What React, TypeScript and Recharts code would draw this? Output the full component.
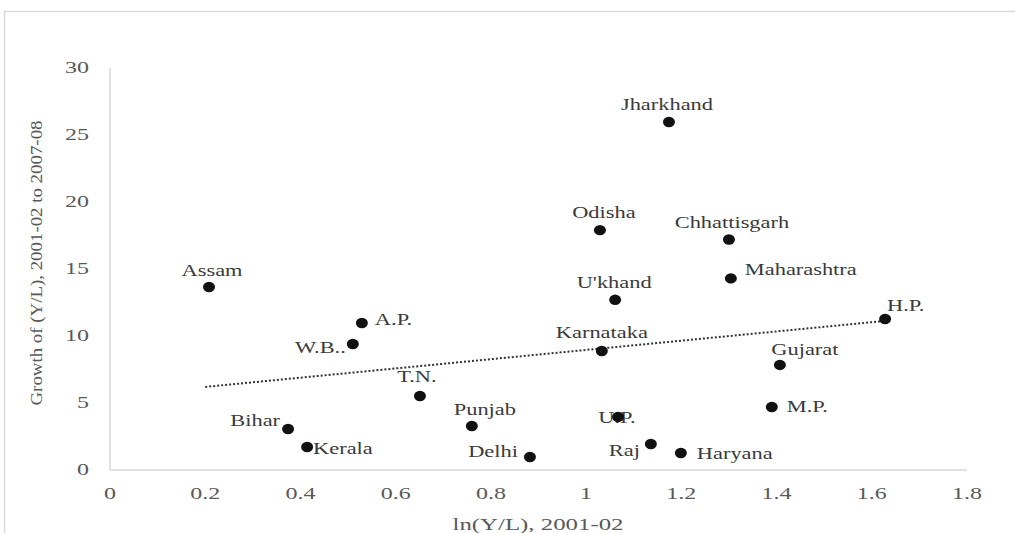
import { ScatterChart, Scatter, XAxis, YAxis } from "recharts";

// ln(Y/L) 2001-02 vs growth of (Y/L) 2001-02 to 2007-08, by state
const states = [
  "Jharkhand", "Odisha", "Chhattisgarh", "Maharashtra", "Assam", "U'khand", "H.P.",
  "A.P.", "W.B..", "Karnataka", "Gujarat", "T.N.", "M.P.", "U.P.", "Punjab", "Bihar",
  "Raj", "Kerala", "Haryana", "Delhi",
];
const lnYL = [
  1.174, 1.029, 1.300, 1.304, 0.208, 1.061, 1.628,
  0.529, 0.510, 1.033, 1.407, 0.651, 1.390, 1.067, 0.760, 0.374,
  1.136, 0.414, 1.199, 0.882,
];
const growth = [
  25.97, 17.9, 17.2, 14.3, 13.66, 12.7, 11.27,
  10.97, 9.4, 8.88, 7.84, 5.52, 4.70, 3.96, 3.28, 3.06,
  1.94, 1.72, 1.27, 0.97,
];

// dotted trend line, end points
const trendX = [0.2, 1.62];
const trendY = [6.2, 11.1];

const xTicks = [0, 0.2, 0.4, 0.6, 0.8, 1, 1.2, 1.4, 1.6, 1.8];
const yTicks = [0, 5, 10, 15, 20, 25, 30];

const points = states.map((name, i) => ({ name, x: lnYL[i], y: growth[i] }));
const trend = trendX.map((x, i) => ({ x, y: trendY[i] }));

// label placement relative to each dot
const LABEL_POS: Record<string, { dx: number; dy: number; anchor: string }> = {
  "Jharkhand":    { dx: -2,  dy: -17, anchor: "middle" },
  "Odisha":       { dx: 4,   dy: -17, anchor: "middle" },
  "Chhattisgarh": { dx: 3,   dy: -17, anchor: "middle" },
  "Maharashtra":  { dx: 14,  dy: -9,  anchor: "start" },
  "Assam":        { dx: 3,   dy: -16, anchor: "middle" },
  "U'khand":      { dx: -1,  dy: -17, anchor: "middle" },
  "H.P.":         { dx: 2,   dy: -13, anchor: "start" },
  "A.P.":         { dx: 13,  dy: -3,  anchor: "start" },
  "W.B..":        { dx: -7,  dy: 4,   anchor: "end" },
  "Karnataka":    { dx: 0,   dy: -18, anchor: "middle" },
  "Gujarat":      { dx: 25,  dy: -15, anchor: "middle" },
  "T.N.":         { dx: -3,  dy: -19, anchor: "middle" },
  "M.P.":         { dx: 15,  dy: 0,   anchor: "start" },
  "U.P.":         { dx: -1,  dy: 1,   anchor: "middle" },
  "Punjab":       { dx: 13,  dy: -16, anchor: "middle" },
  "Bihar":        { dx: -8,  dy: -8,  anchor: "end" },
  "Raj":          { dx: -11, dy: 7,   anchor: "end" },
  "Kerala":       { dx: 6,   dy: 2,   anchor: "start" },
  "Haryana":      { dx: 16,  dy: 1,   anchor: "start" },
  "Delhi":        { dx: -12, dy: -5,  anchor: "end" },
};

const FONT = "'Liberation Serif', 'Times New Roman', serif";
const LABEL_SX = 1.4; // the original text is stretched sideways
const TICK_SX = 1.5;
const AXIS = "#d9d9d9";
const TICK = "#595959";

function StateDot(props: any) {
  const { cx, cy, payload } = props;
  const pos = LABEL_POS[payload.name] ?? { dx: 10, dy: 0, anchor: "start" };
  return (
    <g>
      <text
        transform={`translate(${cx + pos.dx},${cy + pos.dy}) scale(${LABEL_SX},1)`}
        textAnchor={pos.anchor}
        dominantBaseline="central"
        fontFamily={FONT}
        fontSize={16}
        fill="#3a3a3a"
      >
        {payload.name}
      </text>
      <ellipse cx={cx} cy={cy} rx={6} ry={5.2} fill="#111" />
    </g>
  );
}

function Tick(props: any) {
  const { x, y, payload, textAnchor } = props;
  return (
    <text
      transform={`translate(${x},${y}) scale(${TICK_SX},1)`}
      textAnchor={textAnchor}
      dominantBaseline="central"
      fontFamily={FONT}
      fontSize={16}
      fill={TICK}
    >
      {payload.value}
    </text>
  );
}

export default function App() {
  return (
    <div style={{ position: "fixed", left: 0, top: 0, width: 1015, height: 533, overflow: "hidden", background: "#fff" }}>
      <ScatterChart width={1015} height={533} margin={{ top: 68, right: 48, bottom: 33, left: 50 }}>
        <XAxis
          type="number" dataKey="x" domain={[0, 1.8]} ticks={xTicks} height={30}
          axisLine={{ stroke: AXIS, strokeWidth: 1.5 }} tickLine={false} tickSize={0} tickMargin={24}
          tick={<Tick />} interval={0} allowDataOverflow
        />
        <YAxis
          type="number" dataKey="y" domain={[0, 30]} ticks={yTicks} width={60}
          axisLine={{ stroke: AXIS, strokeWidth: 1.5 }} tickLine={false} tickSize={0} tickMargin={21}
          tick={<Tick />} interval={0} allowDataOverflow
        />
        <Scatter
          data={trend} isAnimationActive={false}
          line={{ stroke: "#333", strokeWidth: 2, strokeDasharray: "2 2" }}
          shape={() => <g />}
        />
        <Scatter data={points} isAnimationActive={false} shape={<StateDot />} />
      </ScatterChart>

      {/* frame and axis titles */}
      <svg width={1015} height={533} style={{ position: "absolute", left: 0, top: 0, pointerEvents: "none" }}>
        <path d="M4.5 533 L4.5 11.5 L1015 11.5" fill="none" stroke={AXIS} strokeWidth={1.5} />
        <text
          transform="translate(36,263) rotate(-90)"
          textAnchor="middle" dominantBaseline="central"
          fontFamily={FONT} fontSize={16} fill={TICK}
          textLength={285} lengthAdjust="spacingAndGlyphs"
        >
          Growth of (Y/L), 2001-02 to 2007-08
        </text>
        <text
          x={538} y={530} textAnchor="middle"
          fontFamily={FONT} fontSize={17} fill={TICK}
          textLength={171} lengthAdjust="spacingAndGlyphs"
        >
          ln(Y/L), 2001-02
        </text>
      </svg>
    </div>
  );
}
